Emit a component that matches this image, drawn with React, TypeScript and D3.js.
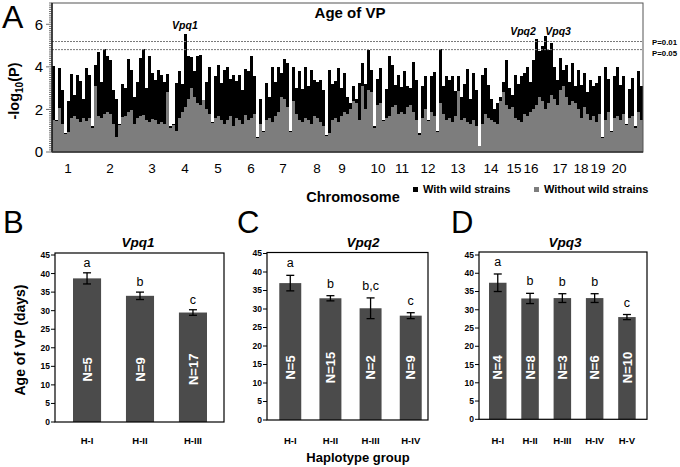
import React from 'react';
import * as d3 from 'd3';

// ---------- Panel A data (marker-wise -log10(P)) ----------
const withWild = [
  4.05, 1.5, 3.95, 2.9, 0.9, 2.4, 3.65, 2.7, 3.6, 3.35,
  2.5, 3.95, 3.6, 1.2, 4.1, 4.7, 3.3, 4.85, 4.5, 4.3,
  2.9, 2.5, 1.3, 3.2, 3.0, 4.35, 3.85, 2.6, 3.3, 4.4,
  4.85, 3.0, 4.5, 3.7, 3.4, 3.85, 3.6, 3.3, 3.65, 1.2,
  1.3, 3.25, 3.8, 3.2, 5.55, 4.5, 4.45, 3.8, 4.5, 4.55,
  2.45, 3.3, 4.0, 1.4, 3.55, 4.1, 3.25, 3.85, 4.0, 3.45,
  3.6, 3.35, 3.6, 2.9, 3.9, 3.8, 4.5, 3.55, 0.7, 2.5,
  1.0, 3.25, 2.6, 4.0, 3.3, 4.0, 3.7, 4.35, 4.2, 1.0,
  4.0, 3.0, 3.8, 2.95, 4.0, 3.1, 3.85, 3.4, 3.3, 3.4,
  2.9, 0.8, 3.85, 3.2, 3.35, 3.95, 3.0, 3.7, 2.6, 2.3,
  3.1, 2.5, 3.25, 4.2, 3.2, 4.8, 3.85, 1.2, 3.45, 3.95,
  1.5, 2.95, 4.5, 4.1, 3.15, 3.6, 3.05, 3.8, 3.1, 3.0,
  4.25, 3.4, 0.9, 3.1, 3.55, 1.5, 3.55, 3.75, 1.0, 4.85,
  3.1, 3.55, 3.4, 3.55, 2.85, 3.55, 2.6, 3.2, 3.9, 2.5,
  3.7, 2.9, 0.3, 3.6, 3.95, 3.15, 2.5, 2.0, 2.3, 2.6,
  3.3, 4.3, 3.0, 2.7, 3.6, 3.2, 3.55, 3.7, 4.0, 3.3,
  4.3, 5.3, 4.75, 5.0, 5.45, 4.8, 5.1, 4.0, 3.4, 4.4,
  3.85, 4.1, 3.3, 4.2, 3.1, 3.85, 3.15, 3.7, 2.8, 3.4,
  3.1, 3.25, 3.55, 0.7, 4.0, 3.45, 1.0, 3.55, 4.0, 3.15,
  3.55, 1.3, 2.95, 3.5, 1.2, 3.8, 3.1,
];
const withoutWild = [
  1.5, 1.45, 2.05, 1.3, 0.85, 0.95, 1.6, 1.7, 1.55, 1.4,
  1.6, 1.45, 1.6, 1.15, 3.1, 1.7, 1.6, 1.8, 1.9, 1.8,
  1.3, 0.7, 1.25, 1.65, 1.7, 1.9, 1.95, 1.3, 1.6, 1.7,
  1.75, 1.5, 1.4, 1.55, 1.5, 1.3, 1.4, 1.3, 2.8, 1.15,
  1.25, 1.0, 1.6, 1.9, 2.1, 2.5, 3.0, 2.6, 2.3, 2.2,
  2.45, 2.0, 1.8, 1.35, 1.6, 1.7, 1.5, 1.3, 1.5, 1.7,
  1.2, 1.6, 1.5, 1.3, 1.75, 1.5, 1.6, 1.8, 0.65, 1.3,
  0.95, 1.5, 1.6, 1.4, 1.7, 1.9, 2.6, 2.5, 2.1, 0.95,
  2.4, 1.8, 1.5, 1.4, 1.6, 1.5, 1.3, 1.7, 1.6, 1.4,
  1.2, 0.75, 0.9, 1.5, 1.6, 1.4, 1.7, 1.9, 1.8, 2.0,
  2.4, 2.3, 1.5, 3.1, 2.0, 2.9, 2.8, 1.15, 2.2, 2.3,
  1.45, 1.6, 1.7, 2.1, 2.2, 1.8, 1.9, 1.8, 2.1, 2.2,
  1.9, 1.5, 0.8, 1.6, 2.0, 1.45, 1.9, 1.7, 0.95, 2.3,
  1.8, 1.5, 1.6, 1.4, 1.7, 2.85, 1.5, 1.6, 1.4, 1.3,
  1.5, 1.2, 0.3, 1.3, 1.8, 1.6, 1.5, 1.4, 1.3, 2.4,
  2.8, 2.2, 2.0, 2.1, 1.6, 1.5, 1.4, 1.8, 1.7, 1.9,
  2.0, 2.2, 2.6, 2.4, 2.0, 2.3, 2.7, 2.5, 2.2, 2.9,
  3.1, 2.6, 2.2, 2.4, 2.3, 2.0, 1.6, 2.1, 1.8, 1.5,
  1.7, 1.4, 1.8, 0.65, 1.5, 1.9, 0.95, 1.6, 1.7, 1.5,
  1.8, 1.25, 1.6, 1.7, 1.15, 1.9, 1.5,
];
const chromLabels = ['1','2','3','4','5','6','7','8','9','10','11','12','13','14','15','16','17','18','19','20'];
const chromCenters = [5.33, 19.33, 33.33, 44.33, 55.33, 66.33, 77, 88.33, 96.67, 108.67, 116.67, 125.33, 135.33, 146.33, 154, 159.67, 169.33, 176.33, 182, 189];
const thresholdLabels = ['P=0.01', 'P=0.05'];
const thresholdValues = [5.19, 4.81];
const qtlNames = ['Vpq1', 'Vpq2', 'Vpq3'];
const qtlMarkerPos = [44.3, 157, 168.7];
const qtlLabelValue = [5.78, 5.5, 5.5];
const aTicks = [0, 2, 4, 6];
const legendLabels = ['With wild strains', 'Without wild strains'];

// ---------- Panels B, C, D data ----------
const groupsB = ['H-I', 'H-II', 'H-III'];
const meansB = [38.7, 34.0, 29.5];
const errB = [1.5, 1.0, 0.75];
const lettersB = ['a', 'b', 'c'];
const nB = ['N=5', 'N=9', 'N=17'];

const groupsC = ['H-I', 'H-II', 'H-III', 'H-IV'];
const meansC = [37.0, 32.9, 30.2, 28.2];
const errC = [2.1, 0.7, 2.8, 0.8];
const lettersC = ['a', 'b', 'b,c', 'c'];
const nC = ['N=5', 'N=15', 'N=2', 'N=9'];

const groupsD = ['H-I', 'H-II', 'H-III', 'H-IV', 'H-V'];
const meansD = [37.4, 33.1, 33.2, 33.2, 28.0];
const errD = [2.4, 1.4, 1.2, 1.2, 0.7];
const lettersD = ['a', 'b', 'b', 'b', 'c'];
const nD = ['N=4', 'N=8', 'N=3', 'N=6', 'N=10'];

const barTicks = [0, 5, 10, 15, 20, 25, 30, 35, 40, 45];

const FONT = "'Liberation Sans', Arial, Helvetica, sans-serif";

type PanelProps = {
  letter: string; letterX: number; title: string; titleX: number;
  groups: string[]; means: number[]; errs: number[]; letters: string[]; ns: string[];
  fl: number; fr: number; ft: number; fb: number; y45: number;
  r0: number; r1: number; pi: number; po: number; letterOffset: number;
};

function BarPanel(p: PanelProps) {
  const x = d3.scaleBand<string>().domain(p.groups).range([p.r0, p.r1]).paddingInner(p.pi).paddingOuter(p.po);
  const y = d3.scaleLinear().domain([0, 45]).range([p.fb, p.y45]);
  const bw = x.bandwidth();
  return (
    <g fontFamily={FONT}>
      <text x={p.letterX} y={233} fontSize={31} fill="#000">{p.letter}</text>
      <text x={p.titleX} y={247} fontSize={13.5} fontWeight="bold" fontStyle="italic" textAnchor="middle" fill="#000">{p.title}</text>
      {p.groups.map((g, i) => {
        const cx = (x(g) as number) + bw / 2;
        const top = y(p.means[i] + p.errs[i]);
        const bot = y(p.means[i] - p.errs[i]);
        return (
          <g key={g}>
            <rect x={x(g)} y={y(p.means[i])} width={bw} height={p.fb - y(p.means[i])} fill="#4b4b4b" />
            <line x1={cx} x2={cx} y1={top} y2={bot} stroke="#000" strokeWidth={1.3} />
            <line x1={cx - 4} x2={cx + 4} y1={top} y2={top} stroke="#000" strokeWidth={1.3} />
            <line x1={cx - 4} x2={cx + 4} y1={bot} y2={bot} stroke="#000" strokeWidth={1.3} />
            <text x={cx} y={top - p.letterOffset} fontSize={12.5} textAnchor="middle" fill="#000">{p.letters[i]}</text>
            <text transform={`translate(${cx},${y(14.2)}) rotate(-90)`} dy="0.36em" fontSize={13} fontWeight="bold" fill="#fff" textAnchor="middle">{p.ns[i]}</text>
            <text x={cx} y={444} fontSize={9.5} fontWeight="bold" textAnchor="middle" fill="#000">{g}</text>
          </g>
        );
      })}
      <rect x={p.fl} y={p.ft} width={p.fr - p.fl} height={p.fb - p.ft} fill="none" stroke="#000" strokeWidth={1.2} />
      {barTicks.map(t => (
        <g key={t}>
          <line x1={p.fl - 4} x2={p.fl} y1={y(t)} y2={y(t)} stroke="#000" strokeWidth={1} />
          <text x={p.fl - 5} y={y(t)} dy="0.35em" fontSize={8.5} fontWeight="bold" textAnchor="end" fill="#000">{t}</text>
        </g>
      ))}
    </g>
  );
}

export default function App() {
  const n = withWild.length;
  const mx = d3.scaleBand<number>().domain(d3.range(n)).range([52, 643]).padding(0);
  const mxLin = d3.scaleLinear().domain([0, n]).range([52, 643]);
  const my = d3.scaleLinear().domain([0, 7]).range([152, 3]);
  const bw = mx.bandwidth();
  const minor = d3.range(0, 7.001, 0.1);
  const labelShift = [1, 4];

  return (
    <svg width={680} height={467} style={{ position: 'absolute', left: 0, top: 0, background: '#fff' }} fontFamily={FONT}>
      <rect x={0} y={0} width={680} height={467} fill="#fff" />
      {/* Panel A */}
      <text x={2} y={28} fontSize={32} fill="#000">A</text>
      <g shapeRendering="crispEdges">
        {withWild.map((v, i) => (
          <rect key={'b' + i} x={mx(i)} y={my(v)} width={bw + 0.4} height={152 - my(v)} fill="#000" />
        ))}
        {withoutWild.map((v, i) => (
          <rect key={'g' + i} x={mx(i)} y={my(v)} width={bw + 0.4} height={152 - my(v)} fill="#7d7d7d" />
        ))}
      </g>
      {thresholdValues.map((t, i) => (
        <g key={t}>
          <line x1={52} x2={643} y1={my(t)} y2={my(t)} stroke="#777" strokeWidth={1} strokeDasharray="2,1" />
          <text x={652} y={my(t) + labelShift[i]} dy="0.35em" fontSize={8} fontWeight="bold" textLength={25} lengthAdjust="spacingAndGlyphs" fill="#000">{thresholdLabels[i]}</text>
        </g>
      ))}
      <rect x={52} y={3} width={591} height={149} fill="none" stroke="#555" strokeWidth={1} />
      <line x1={52} x2={52} y1={3} y2={152} stroke="#000" strokeWidth={1.2} />
      <line x1={52} x2={643} y1={152} y2={152} stroke="#333" strokeWidth={1.5} />
      {minor.map((t, i) => (
        <line key={i} x1={52 - (Math.abs(t % 2) < 0.01 || Math.abs((t % 2) - 2) < 0.01 ? 6 : 3)} x2={52} y1={my(t)} y2={my(t)} stroke="#333" strokeWidth={0.7} />
      ))}
      {aTicks.map(t => (
        <text key={t} x={43} y={my(t)} dy="0.36em" fontSize={15} textAnchor="end" fill="#000">{t}</text>
      ))}
      <text transform={`translate(19,91) rotate(-90)`} fontSize={14.5} fontWeight="bold" textAnchor="middle" fill="#000">
        <tspan>-log</tspan><tspan dy={4} fontSize={10}>10</tspan><tspan dy={-4}>(P)</tspan>
      </text>
      <text x={350} y={18} fontSize={15} fontWeight="bold" textAnchor="middle" fill="#000">Age of VP</text>
      {qtlNames.map((q, i) => (
        <text key={q} x={mxLin(qtlMarkerPos[i])} y={my(qtlLabelValue[i])} fontSize={10.5} fontWeight="bold" fontStyle="italic" textAnchor="middle" fill="#000">{q}</text>
      ))}
      {chromLabels.map((c, i) => (
        <text key={c} x={mxLin(chromCenters[i])} y={173} fontSize={13.5} textAnchor="middle" fill="#000">{c}</text>
      ))}
      <text x={353} y={202} fontSize={14.5} fontWeight="bold" textAnchor="middle" fill="#000">Chromosome</text>
      <rect x={413} y={187} width={5} height={5} fill="#000" />
      <text x={423} y={193} fontSize={11} fontWeight="bold" fill="#000">{legendLabels[0]}</text>
      <rect x={534} y={187} width={5} height={5} fill="#7d7d7d" />
      <text x={544} y={193} fontSize={11} fontWeight="bold" fill="#000">{legendLabels[1]}</text>

      {/* Panel B */}
      <BarPanel letter="B" letterX={3} title="Vpq1" titleX={138} groups={groupsB} means={meansB} errs={errB} letters={lettersB} ns={nB}
        fl={55} fr={224} ft={253} fb={422} y45={255} r0={55} r1={225} pi={0.47} po={0.34} letterOffset={6} />
      <text transform="translate(25,340) rotate(-90)" fontSize={14} fontWeight="bold" textAnchor="middle" fill="#000">Age of VP (days)</text>

      {/* Panel C */}
      <BarPanel letter="C" letterX={237} title="Vpq2" titleX={363} groups={groupsC} means={meansC} errs={errC} letters={lettersC} ns={nC}
        fl={267} fr={428} ft={252.5} fb={420} y45={253.5} r0={267} r1={434} pi={0.453} po={0.306} letterOffset={8} />
      <text x={358} y={462} fontSize={13} fontWeight="bold" textAnchor="middle" fill="#000">Haplotype group</text>

      {/* Panel D */}
      <BarPanel letter="D" letterX={451} title="Vpq3" titleX={565} groups={groupsD} means={meansD} errs={errD} letters={lettersD} ns={nD}
        fl={479} fr={647} ft={252} fb={419.3} y45={255} r0={479} r1={645.7} pi={0.458} po={0.31} letterOffset={8} />
    </svg>
  );
}
